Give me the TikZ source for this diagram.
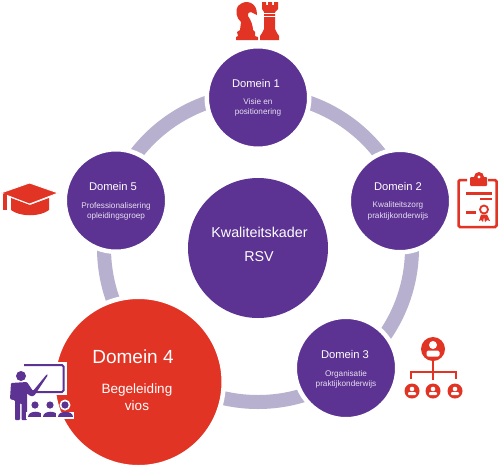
\documentclass[tikz,border=0pt]{standalone}
\usepackage{fontspec}
\setmainfont{Liberation Sans}
\definecolor{pur}{HTML}{5C3292}
\definecolor{rd}{HTML}{E23424}
\definecolor{lav}{HTML}{B7B0CF}
\definecolor{sub}{HTML}{E6E0F0}
\tikzset{
 x=1pt,y=-1pt,
 dom/.style={circle,fill=pur,text=white,draw=white,line width=4.5pt,inner sep=0pt,align=center,minimum size=102.5pt},
 lab/.style={text=white,align=center,inner sep=0pt},
 ttl/.style={lab,font=\fontsize{11.2}{14}\selectfont},
 sbt/.style={lab,text=sub,font=\fontsize{8.2}{10.4}\selectfont},
 ring/.style={draw=lav,line width=14pt},
 icr/.style={fill=rd,draw=none},
 icp/.style={fill=pur,draw=none},
}
\begin{document}
\begin{tikzpicture}
\useasboundingbox (0,0) rectangle (500,469);
\fill[white] (0,0) rectangle (500,469);
\coordinate (rc) at (258,248);
\draw[ring] (rc) circle[radius=154];
\node[dom] (d1) at (258,97.5) {};
\node[dom] (d2) at (400,201) {};
\node[dom] (d3) at (346,368) {};
\node[dom,minimum size=170.5pt,fill=rd] (d4) at (138.5,382) {};
\node[dom] (d5) at (116,200.5) {};
\node[circle,fill=pur,minimum size=140pt,inner sep=0pt] (c) at (258,248) {};
\node[ttl] (t1) at (256,83) {Domein 1};
\node[sbt] (s1) at (258,107.5) {Visie en\\positionering};
\node[ttl] (t2) at (398,186) {Domein 2};
\node[sbt] (s2) at (398,211) {Kwaliteitszorg\\praktijkonderwijs};
\node[ttl] (t3) at (345,354) {Domein 3};
\node[sbt] (s3) at (346,379.5) {Organisatie\\praktijkonderwijs};
\node[ttl] (t5) at (113,186) {Domein 5};
\node[sbt] (s5) at (116,211.5) {Professionalisering\\opleidingsgroep};
\node[lab,font=\fontsize{19}{22}\selectfont] (t4) at (133,357) {Domein 4};
\node[lab,font=\fontsize{13.5}{17}\selectfont] (s4) at (137,397.5) {Begeleiding\\vios};
\node[lab,font=\fontsize{14.3}{17}\selectfont] (k1) at (259.5,232) {Kwaliteitskader};
\node[lab,font=\fontsize{14.3}{17}\selectfont] (k2) at (259,257) {RSV};
% chess knight
\fill[icr] (238,36) -- (237,32) -- (240,30) -- (241,22) .. controls (236,18) and (235,10) .. (238,6) .. controls (242,2) and (247,1) .. (251,3) .. controls (255,5) and (257,9) .. (257,15) -- (251,12) .. controls (249,11) and (247,14) .. (248,16) .. controls (251,20) and (253,26) .. (253,30) -- (255,32) -- (255,36) -- (258,37) -- (258,40) -- (236,40) -- (236,37) -- cycle;
% chess rook
\fill[icr] (262,2) -- (266,2) -- (266,5) -- (268,5) -- (268,2) -- (272,2) -- (272,5) -- (274,5) -- (274,2) -- (278,2) -- (278,9) -- (275,12) -- (275,29) -- (277,33) -- (279,36) -- (279,40) -- (260,40) -- (260,36) -- (262,33) -- (264,29) -- (264,12) -- (262,9) -- cycle;
\draw[white,line width=.8pt] (263,13.5) -- (276,13.5) (263,16.5) -- (276,16.5);
% clipboard
\draw[rd,line width=2.5pt,rounded corners=1.5pt] (467,180) -- (458.5,180) -- (458.5,227) -- (496.5,227) -- (496.5,180) -- (488,180);
\fill[icr,rounded corners=1pt] (470,177) rectangle (487,186);
\fill[icr] (479,177) circle[radius=5];
\fill[white] (479,177) circle[radius=1.7];
\fill[icr] (466,192) rectangle (492,194.5);
\fill[icr] (480,197.5) rectangle (492,200);
\fill[icr] (466,211) rectangle (476,213.5);
\draw[rd,line width=1.8pt] (484,209.5) circle[radius=4];
\fill[icr] (481,214.5) -- (479,221) -- (481,220) -- (483,222) -- (484,217) -- (485,222) -- (487,220) -- (490,221) -- (487,214.5) -- cycle;
% org chart
\draw[rd,line width=2.4pt] (433,360) -- (433,380) (411,379) -- (411,372) -- (456,372) -- (456,379);
\fill[icr] (433,349) circle[radius=12];
\fill[white] (433,345) circle[radius=4];
\fill[white,rounded corners=1.5pt] (426.5,350.5) rectangle (439.5,356.5);
\foreach \px in {412,433,455}{
 \fill[icr] (\px,391) circle[radius=7.5];
 \fill[white] (\px,389) circle[radius=2.3];
 \fill[white,rounded corners=1pt] (\px-4,392) rectangle (\px+4,395);
}
% teacher
\fill[white] (23,362) rectangle (66.5,395);
\draw[pur,line width=2pt,rounded corners=1.5pt] (24,365) -- (63.5,365) -- (63.5,392) -- (34,392);
\fill[icp] (21,376) circle[radius=5];
\fill[icp,rounded corners=1pt] (11,383) -- (27,382) -- (33,391) -- (47,374) -- (48,375) -- (34,396) -- (30,396) -- (27,393) -- (27,420) -- (21.5,420) -- (21.5,403) -- (20,403) -- (20,420) -- (15,420) -- (15,400) -- (13,400) -- (10,399) -- cycle;
\foreach \px in {35,50,65}{
 \fill[white] (\px,405) circle[radius=5.5];
 \fill[white] (\px-9,419) rectangle (\px+9,412);
 \fill[icp] (\px,405) circle[radius=3.6];
 \fill[icp] (\px-7.5,417) .. controls (\px-7.5,409.5) and (\px+7.5,409.5) .. (\px+7.5,417) -- cycle;
}
% graduation cap
\fill[icr] (11,198) -- (30,205) -- (49,198) -- (49,210) .. controls (40,217) and (20,217) .. (11,210) -- cycle;
\fill[icr,draw=white,line width=.8pt] (1,193) -- (29.5,183) -- (58,193) -- (29.5,204) -- cycle;
\fill[icr] (3,194) rectangle (7,210);
\end{tikzpicture}
\end{document}
